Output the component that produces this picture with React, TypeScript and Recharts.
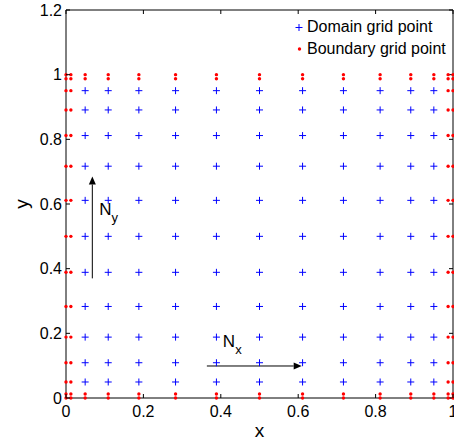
import React from "react";
import {
  ScatterChart, Scatter, XAxis, YAxis, ReferenceLine, Legend, Label,
} from "recharts";

// Gauss-Lobatto style nodes (same in x and y)
const gridNodes = [0, 0.0126, 0.0495, 0.1091, 0.1883, 0.2831, 0.3887, 0.5, 0.6113, 0.7169, 0.8117, 0.8909, 0.9505, 0.9874, 1];
const xTicks = [0, 0.2, 0.4, 0.6, 0.8, 1];
const yTicks = [0, 0.2, 0.4, 0.6, 0.8, 1, 1.2];
const legendItems = ["Domain grid point", "Boundary grid point"];
// annotation arrows: [start, end] in data units
const nxArrow = [{ x: 0.364, y: 0.099 }, { x: 0.609, y: 0.099 }];
const nyArrow = [{ x: 0.068, y: 0.37 }, { x: 0.068, y: 0.685 }];

const FONT = '"Liberation Sans", Arial, Helvetica, sans-serif';
const BLUE = "#0000ff";
const RED = "#ff0000";
const TICK_LEN = 4;

// two outer layers are boundary points, the rest is domain
const domainPoints: { x: number; y: number }[] = [];
const boundaryPoints: { x: number; y: number }[] = [];
gridNodes.forEach((x, i) => {
  gridNodes.forEach((y, j) => {
    const edge = i < 2 || i > 12 || j < 2 || j > 12;
    (edge ? boundaryPoints : domainPoints).push({ x, y });
  });
});

const PlusMarker = (props: any) => {
  const { cx, cy } = props;
  if (cx == null || cy == null) return null;
  return (
    <path
      d={`M${cx - 3.5},${cy}H${cx + 3.5}M${cx},${cy - 3.5}V${cy + 3.5}`}
      stroke={BLUE}
      strokeWidth={1}
      fill="none"
    />
  );
};

const DotMarker = (props: any) => {
  const { cx, cy } = props;
  if (cx == null || cy == null) return null;
  return <circle cx={cx} cy={cy} r={1.7} fill={RED} />;
};

const BottomTick = ({ x, y, payload }: any) => (
  <g>
    <line x1={x} y1={y - 8} x2={x} y2={y - 8 - TICK_LEN} stroke="#000" />
    <text x={x} y={y} dy="0.71em" textAnchor="middle" fontSize={16} fontFamily={FONT} fill="#000">
      {String(payload.value)}
    </text>
  </g>
);

const LeftTick = ({ x, y, payload }: any) => (
  <g>
    <line x1={x + 4} y1={y} x2={x + 4 + TICK_LEN} y2={y} stroke="#000" />
    <text x={x} y={y} dy="0.355em" textAnchor="end" fontSize={16} fontFamily={FONT} fill="#000">
      {String(payload.value)}
    </text>
  </g>
);

// box frame on top / right, with inward ticks
const topTickShape = (props: any) => {
  const { x1, y1, y2 } = props;
  const top = Math.min(y1, y2);
  return <line x1={x1} y1={top} x2={x1} y2={top + TICK_LEN} stroke="#000" />;
};
const rightTickShape = (props: any) => {
  const { x1, x2, y1 } = props;
  const right = Math.max(x1, x2);
  return <line x1={right} y1={y1} x2={right - TICK_LEN} y2={y1} stroke="#000" />;
};

const arrowShape = (kind: "x" | "y") => (props: any) => {
  const { x1, y1, x2, y2 } = props;
  const dx = x2 - x1;
  const dy = y2 - y1;
  const len = Math.sqrt(dx * dx + dy * dy) || 1;
  const ux = dx / len;
  const uy = dy / len;
  const head = 8;
  const half = 3.5;
  const bx = x2 - ux * head;
  const by = y2 - uy * head;
  const pts = `${x2},${y2} ${bx - uy * half},${by + ux * half} ${bx + uy * half},${by - ux * half}`;
  const tx = kind === "x" ? x1 + 16 : x1 + 7;
  const ty = kind === "x" ? y1 - 19 : y2 + 38;
  return (
    <g>
      <line x1={x1} y1={y1} x2={bx} y2={by} stroke="#000" strokeWidth={1} />
      <polygon points={pts} fill="#000" />
      <text x={tx} y={ty} fontSize={17} fontFamily={FONT} fill="#000">
        N
        <tspan dy={7} fontSize={13}>{kind}</tspan>
      </text>
    </g>
  );
};

const LegendBox = () => (
  <div style={{ fontFamily: FONT, fontSize: 16, color: "#000", lineHeight: "22px" }}>
    {legendItems.map((name, i) => (
      <div key={name} style={{ display: "flex", alignItems: "center", height: 22 }}>
        <svg width={15} height={22} style={{ display: "block" }}>
          {i === 0 ? (
            <path d="M3.5,11.5H10.5M7,8V15" stroke={BLUE} strokeWidth={1} fill="none" />
          ) : (
            <circle cx={7.5} cy={11} r={1.7} fill={RED} />
          )}
        </svg>
        <span style={{ whiteSpace: "nowrap" }}>{name}</span>
      </div>
    ))}
  </div>
);

export default function App() {
  return (
    <div style={{ position: "absolute", left: 0, top: 0, width: 454, height: 443, background: "#fff" }}>
      <ScatterChart width={454} height={443} margin={{ top: 10, right: 1, bottom: 0, left: 0 }}>
        <XAxis
          type="number"
          dataKey="x"
          domain={[0, 1]}
          ticks={xTicks}
          interval={0}
          height={45}
          tickSize={0}
          tickMargin={8}
          tick={BottomTick}
          axisLine={{ stroke: "#000" }}
        >
          <Label
            content={({ viewBox }: any) => (
              <text
                x={viewBox.x + viewBox.width / 2}
                y={viewBox.y + 39}
                textAnchor="middle"
                fontSize={19}
                fontFamily={FONT}
                fill="#000"
              >
                x
              </text>
            )}
          />
        </XAxis>
        <YAxis
          type="number"
          dataKey="y"
          domain={[0, 1.2]}
          ticks={yTicks}
          interval={0}
          width={66}
          tickSize={0}
          tickMargin={4}
          tick={LeftTick}
          axisLine={{ stroke: "#000" }}
        >
          <Label
            content={({ viewBox }: any) => {
              const cx = viewBox.x + 28;
              const cy = viewBox.y + viewBox.height / 2;
              return (
                <text
                  x={cx}
                  y={cy}
                  transform={`rotate(-90, ${cx}, ${cy})`}
                  textAnchor="middle"
                  fontSize={19}
                  fontFamily={FONT}
                  fill="#000"
                >
                  y
                </text>
              );
            }}
          />
        </YAxis>
        <ReferenceLine y={1.2} stroke="#000" ifOverflow="visible" />
        <ReferenceLine x={1} stroke="#000" ifOverflow="visible" />
        {xTicks.map((t) => (
          <ReferenceLine key={`tt${t}`} x={t} shape={topTickShape} ifOverflow="visible" />
        ))}
        {yTicks.map((t) => (
          <ReferenceLine key={`rt${t}`} y={t} shape={rightTickShape} ifOverflow="visible" />
        ))}
        <Scatter data={domainPoints} shape={PlusMarker} isAnimationActive={false} />
        <Scatter data={boundaryPoints} shape={DotMarker} isAnimationActive={false} />
        <ReferenceLine segment={nxArrow} shape={arrowShape("x")} ifOverflow="visible" />
        <ReferenceLine segment={nyArrow} shape={arrowShape("y")} ifOverflow="visible" />
        <Legend
          layout="vertical"
          align="center"
          verticalAlign="middle"
          wrapperStyle={{ left: 292, top: 16, width: 162, height: 44 }}
          content={() => <LegendBox />}
        />
      </ScatterChart>
    </div>
  );
}
